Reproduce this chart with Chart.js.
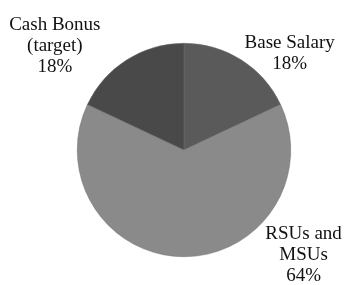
<!DOCTYPE html>
<html>
<head>
<meta charset="utf-8">
<script src="https://cdn.jsdelivr.net/npm/chart.js@4"></script>
<style>
  body { margin: 0; background: #fff; }
  canvas { display: block; }
</style>
</head>
<body>
<canvas id="chart" width="345" height="285"></canvas>
<script>
// Data for chart
const labels = ["Base Salary", "RSUs and MSUs", "Cash Bonus (target)"];
const labelLines = [["Base Salary"], ["RSUs and", "MSUs"], ["Cash Bonus", "(target)"]];
const values = [18, 64, 18];
const colors = ["#5a5a5a", "#8a8a8a", "#494949"];

// Label anchor offsets, in units of the pie radius
const labelOffsets = [
  [0.99, -0.9],
  [1.12, 0.98],
  [-1.21, -0.97],
];

const outsideLabels = {
  id: "outsideLabels",
  afterDraw(chart) {
    const ctx = chart.ctx;
    const arcs = chart.getDatasetMeta(0).data;
    ctx.save();
    ctx.fillStyle = "#111111";
    ctx.font = "19px 'Liberation Serif', serif";
    ctx.textAlign = "center";
    ctx.textBaseline = "middle";
    const lineHeight = 21;
    arcs.forEach((arc, i) => {
      const r = arc.outerRadius;
      const cx = arc.x + labelOffsets[i][0] * r;
      const cy = arc.y + labelOffsets[i][1] * r;
      const lines = labelLines[i].concat([values[i] + "%"]);
      const top = cy - ((lines.length - 1) * lineHeight) / 2;
      lines.forEach((line, j) => {
        ctx.fillText(line, cx, top + j * lineHeight);
      });
    });
    ctx.restore();
  },
};

const ctx = document.getElementById("chart").getContext("2d");

new Chart(ctx, {
  type: "pie",
  data: {
    labels: labels,
    datasets: [
      {
        data: values,
        backgroundColor: colors,
        borderColor: "#6e6e6e",
        borderWidth: 0.5,
      },
    ],
  },
  options: {
    responsive: false,
    animation: false,
    layout: {
      padding: { left: 77, right: 54, top: 43, bottom: 28 },
    },
    plugins: {
      legend: { display: false },
      tooltip: { enabled: false },
    },
  },
  plugins: [outsideLabels],
});
</script>
</body>
</html>
